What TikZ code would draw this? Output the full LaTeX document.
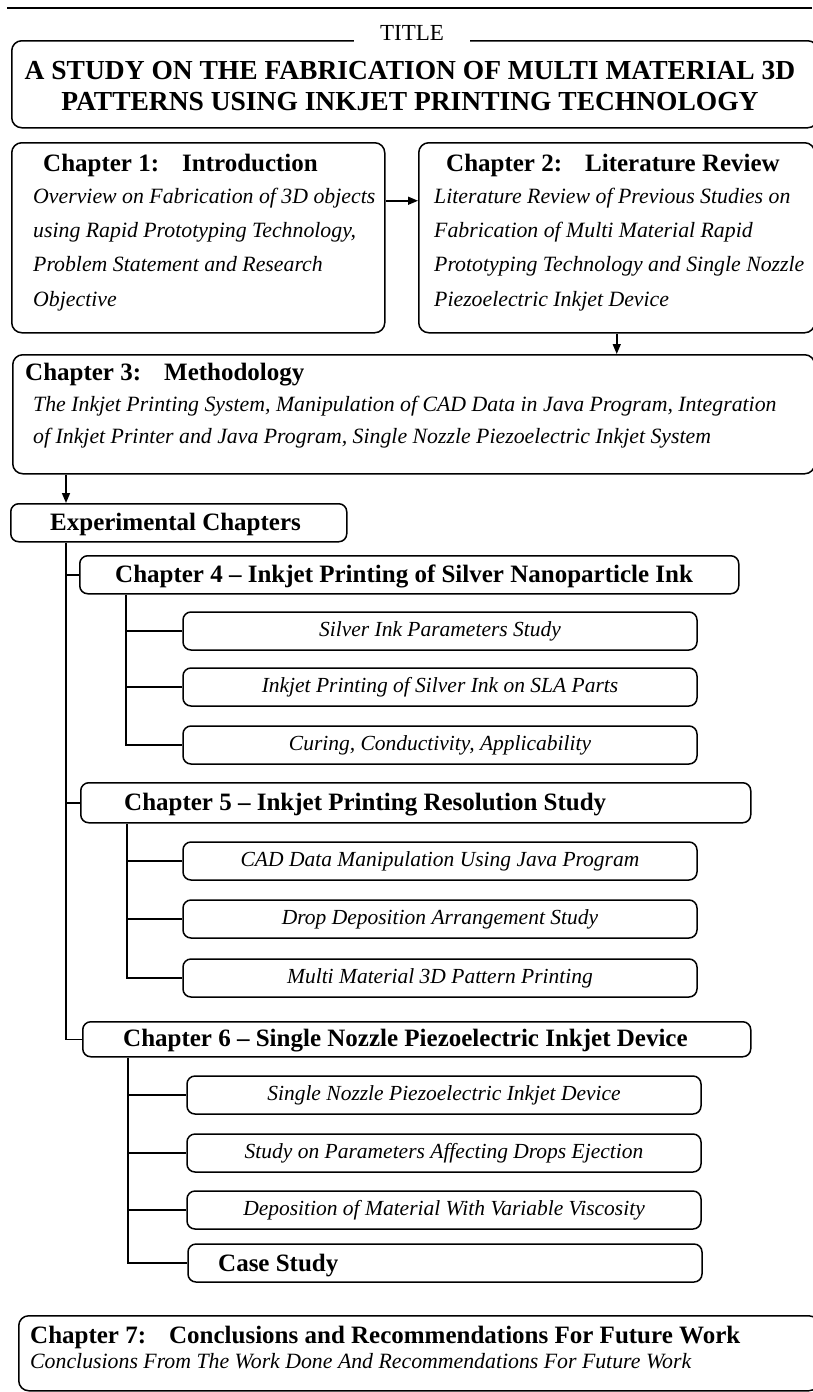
\documentclass[tikz,border=0pt]{standalone}
\usepackage{fontspec}
\setmainfont{Liberation Serif}
\usetikzlibrary{arrows.meta,positioning}

\tikzset{
  frame/.style={draw, rounded corners=10pt, line width=1.5pt, inner sep=0pt},
  subbox/.style={frame, rounded corners=8pt, minimum width=514pt, minimum height=38pt,
    font=\fontsize{21.5}{24}\selectfont\itshape},
  head/.style={anchor=base west, inner sep=0pt, font=\fontsize{25}{30}\selectfont\bfseries},
  desc/.style={anchor=base west, inner sep=0pt, align=left, font=\fontsize{21.8}{34.3}\selectfont\itshape},
  link/.style={line width=1.5pt},
  arr/.style={link, -{Triangle[length=10pt,width=8pt]}},
}

\begin{document}
\begin{tikzpicture}[x=1pt,y=-1pt]
    \useasboundingbox (0,0) rectangle (812,1392);

    % title
    \draw[link] (7,8) -- (812,8);
    \node[frame, anchor=north west, minimum width=806pt, minimum height=87pt] (titlebox) at (11,40) {};
    \node[fill=white, inner xsep=26pt, inner ysep=3pt, anchor=base, font=\fontsize{23}{26}\selectfont] (titlelabel) at (412,40) {TITLE};
    \node[align=center, font=\fontsize{27.5}{31}\selectfont\bfseries] (titletext) at (410,86)
        {A STUDY ON THE FABRICATION OF MULTI MATERIAL 3D\\PATTERNS USING INKJET PRINTING TECHNOLOGY};

    % chapter 1 and 2 (desc nodes sit on their last baseline)
    \node[frame, anchor=north west, minimum width=373pt, minimum height=190pt] (ch1) at (11,142) {};
    \node[head] (ch1head) at (43,171) {Chapter 1:\hspace{23pt}Introduction};
    \node[desc] (ch1text) at (33,306) {Overview on Fabrication of 3D objects\\using Rapid Prototyping Technology,\\Problem Statement and Research\\Objective};

    \node[frame, anchor=north west, minimum width=396pt, minimum height=190pt] (ch2) at (418,142) {};
    \node[head] (ch2head) at (446,171) {Chapter 2:\hspace{23pt}Literature Review};
    \node[desc] (ch2text) at (434,306) {Literature Review of Previous Studies on\\Fabrication of Multi Material Rapid\\Prototyping Technology and Single Nozzle\\Piezoelectric Inkjet Device};

    \draw[arr] ([yshift=37pt]ch1.east) -- ([yshift=37pt]ch2.west);

    % chapter 3
    \node[frame, anchor=north west, minimum width=802pt, minimum height=119pt] (ch3) at (12,354) {};
    \node[head] (ch3head) at (25,380) {Chapter 3:\hspace{23pt}Methodology};
    \node[desc, font=\fontsize{21.8}{32}\selectfont\itshape] (ch3text) at (33,443) {The Inkjet Printing System, Manipulation of CAD Data in Java Program, Integration\\of Inkjet Printer and Java Program, Single Nozzle Piezoelectric Inkjet System};

    \draw[arr] (ch2.south) -- (ch2.south |- ch3.north);

    % experimental chapters
    \coordinate (spine) at (66,541);
    \node[frame, rounded corners=8pt, anchor=north west, minimum width=336pt, minimum height=38pt] (exp) at (10,503) {};
    \node[head] (exphead) at (50,530) {Experimental Chapters};
    \draw[arr] (ch3.south -| spine) -- (spine |- exp.north);

    \node[frame, rounded corners=8pt, anchor=north west, minimum width=659pt, minimum height=38pt] (ch4) at (79,555) {};
    \node[head] (ch4head) at (115,582) {Chapter 4 -- Inkjet Printing of Silver Nanoparticle Ink};
    \node[frame, rounded corners=8pt, anchor=north west, minimum width=670pt, minimum height=40pt] (ch5) at (80,782) {};
    \node[head] (ch5head) at (124,810) {Chapter 5 -- Inkjet Printing Resolution Study};
    \node[frame, rounded corners=8pt, anchor=north west, minimum width=668pt, minimum height=35pt] (ch6) at (82,1021) {};
    \node[head] (ch6head) at (123,1046) {Chapter 6 -- Single Nozzle Piezoelectric Inkjet Device};

    \draw[link] (exp.south -| spine) |- (ch6.west);
    \draw[link] (spine |- ch4.west) -- (ch4.west);
    \draw[link] (spine |- ch5.west) -- (ch5.west);

    % chapter 4 parts
    \node[subbox] (s41) at (440,631) {Silver Ink Parameters Study};
    \node[subbox] (s42) at (440,687) {Inkjet Printing of Silver Ink on SLA Parts};
    \node[subbox] (s43) at (440,745) {Curing, Conductivity, Applicability};
    \coordinate (b4) at (126,593);
    \draw[link] (ch4.south -| b4) |- (s43.west);
    \draw[link] (b4 |- s41.west) -- (s41.west);
    \draw[link] (b4 |- s42.west) -- (s42.west);

    % chapter 5 parts
    \node[subbox] (s51) at (440,861) {CAD Data Manipulation Using Java Program};
    \node[subbox] (s52) at (440,919) {Drop Deposition Arrangement Study};
    \node[subbox] (s53) at (440,978) {Multi Material 3D Pattern Printing};
    \coordinate (b5) at (127,822);
    \draw[link] (ch5.south -| b5) |- (s53.west);
    \draw[link] (b5 |- s51.west) -- (s51.west);
    \draw[link] (b5 |- s52.west) -- (s52.west);

    % chapter 6 parts
    \node[subbox] (s61) at (444,1095) {Single Nozzle Piezoelectric Inkjet Device};
    \node[subbox] (s62) at (444,1153) {Study on Parameters Affecting Drops Ejection};
    \node[subbox] (s63) at (444,1210) {Deposition of Material With Variable Viscosity};
    \node[subbox] (s64) at (445,1263) {};
    \node[head] (s64text) at (218,1271) {Case Study};
    \coordinate (b6) at (128,1056);
    \draw[link] (ch6.south -| b6) |- (s64.west);
    \draw[link] (b6 |- s61.west) -- (s61.west);
    \draw[link] (b6 |- s62.west) -- (s62.west);
    \draw[link] (b6 |- s63.west) -- (s63.west);

    % chapter 7
    \node[frame, anchor=north west, minimum width=800pt, minimum height=75pt] (ch7) at (18,1315) {};
    \node[head] (ch7head) at (30,1343) {Chapter 7:\hspace{23pt}Conclusions and Recommendations For Future Work};
    \node[desc] (ch7text) at (30,1368) {Conclusions From The Work Done And Recommendations For Future Work};
\end{tikzpicture}
\end{document}
